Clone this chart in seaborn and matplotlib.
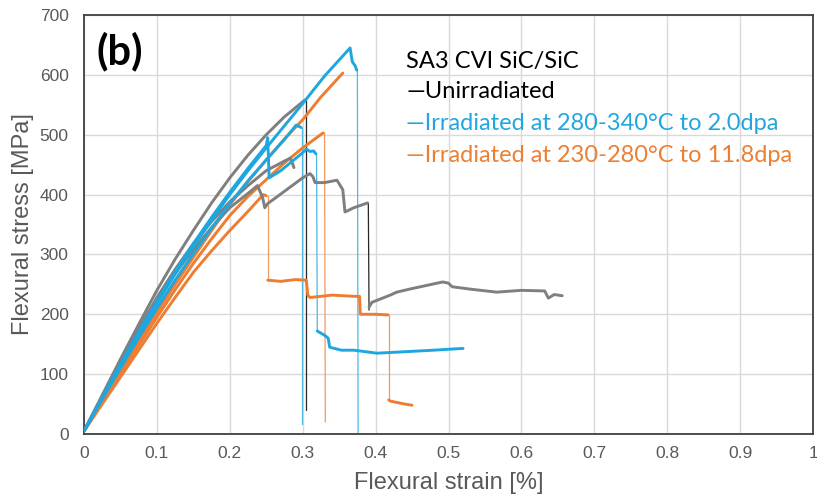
import matplotlib
matplotlib.use("Agg")
import matplotlib.pyplot as plt
import seaborn as sns
import pandas as pd

# ---------------- data (strain %, stress MPa) ----------------
g1_x = [0, 0.025, 0.05, 0.075, 0.1, 0.125, 0.15, 0.175, 0.2, 0.225, 0.25, 0.275, 0.303]
g1_y = [5, 65, 125, 183, 240, 292, 340, 386, 428, 466, 500, 530, 558]
g1_drop_x = [0.305, 0.305]
g1_drop_y = [558, 40]

g2_x = [0, 0.025, 0.05, 0.075, 0.1, 0.125, 0.15, 0.175, 0.2, 0.225, 0.25, 0.275, 0.283,
        0.286, 0.288]
g2_y = [5, 62, 120, 175, 228, 275, 318, 355, 388, 415, 440, 456, 461, 452, 445]

g3_x = [0, 0.025, 0.05, 0.075, 0.1, 0.125, 0.15, 0.175, 0.2, 0.225, 0.238, 0.245, 0.248,
        0.252, 0.26, 0.28, 0.30, 0.31, 0.314, 0.317, 0.33, 0.347, 0.355, 0.358, 0.36,
        0.37, 0.389]
g3_y = [5, 62, 120, 174, 224, 268, 308, 345, 378, 402, 415, 395, 378,
        385, 392, 410, 428, 435, 430, 420, 420, 424, 408, 371, 372,
        378, 386]
g3_drop_x = [0.390, 0.391]
g3_drop_y = [386, 207]
g3_tail_x = [0.391, 0.395, 0.42, 0.429, 0.45, 0.492, 0.50, 0.505, 0.53, 0.566, 0.60,
             0.632, 0.637, 0.645, 0.656]
g3_tail_y = [212, 220, 232, 237, 243, 254, 252, 246, 242, 237, 240,
             239, 227, 233, 231]

b1_x = [0, 0.025, 0.05, 0.075, 0.1, 0.125, 0.15, 0.175, 0.2, 0.225, 0.25, 0.275, 0.3,
        0.33, 0.365, 0.368, 0.372, 0.374]
b1_y = [5, 60, 115, 168, 218, 267, 313, 357, 400, 440, 478, 515, 552,
        598, 645, 622, 615, 608]
b1_drop_x = [0.375, 0.376]
b1_drop_y = [608, 0]

b2_x = [0, 0.025, 0.05, 0.075, 0.1, 0.125, 0.15, 0.175, 0.2, 0.225, 0.25, 0.252,
        0.254, 0.27, 0.29, 0.30, 0.305, 0.31, 0.315, 0.318]
b2_y = [5, 61, 117, 171, 222, 271, 318, 362, 404, 444, 482, 495,
        428, 440, 460, 470, 476, 472, 473, 468]
b2_drop_x = [0.319, 0.320]
b2_drop_y = [468, 172]
b2_tail_x = [0.320, 0.33, 0.335, 0.337, 0.353, 0.37, 0.402, 0.433, 0.479, 0.52]
b2_tail_y = [172, 165, 160, 145, 140, 140, 135, 137, 140, 143]

b3_x = [0, 0.025, 0.05, 0.075, 0.1, 0.125, 0.15, 0.175, 0.2, 0.225, 0.25, 0.275, 0.291, 0.298]
b3_y = [5, 58, 110, 161, 210, 257, 301, 344, 385, 423, 458, 492, 516, 512]
b3_drop_x = [0.299, 0.299]
b3_drop_y = [512, 17]

o1_x = [0, 0.025, 0.05, 0.075, 0.1, 0.125, 0.15, 0.175, 0.2, 0.225, 0.25, 0.275, 0.3,
        0.325, 0.355]
o1_y = [5, 55, 105, 155, 203, 250, 295, 340, 383, 422, 458, 493, 525, 563, 603]

o2_x = [0, 0.025, 0.05, 0.075, 0.1, 0.125, 0.15, 0.175, 0.2, 0.225, 0.25, 0.275, 0.3, 0.328]
o2_y = [5, 52, 100, 148, 195, 241, 285, 326, 365, 397, 425, 453, 478, 503]
o2_drop_x = [0.330, 0.331]
o2_drop_y = [503, 20]

o3_x = [0, 0.025, 0.05, 0.075, 0.1, 0.125, 0.15, 0.175, 0.2, 0.225, 0.246, 0.25]
o3_y = [5, 50, 95, 140, 185, 228, 270, 306, 340, 372, 400, 398]
o3_drop_x = [0.252, 0.252]
o3_drop_y = [398, 257]
o3_step_x = [0.252, 0.27, 0.29, 0.305, 0.307, 0.31, 0.34, 0.37, 0.378, 0.379, 0.40, 0.417]
o3_step_y = [257, 255, 258, 257, 232, 228, 232, 230, 230, 200, 200, 199]
o3_drop2_x = [0.418, 0.418]
o3_drop2_y = [199, 57]
o3_tail_x = [0.418, 0.42, 0.44, 0.45]
o3_tail_y = [57, 55, 50, 48]

x_ticks = [0, 0.1, 0.2, 0.3, 0.4, 0.5, 0.6, 0.7, 0.8, 0.9, 1]
x_tick_labels = ["0", "0.1", "0.2", "0.3", "0.4", "0.5", "0.6", "0.7", "0.8", "0.9", "1"]
y_ticks = [0, 100, 200, 300, 400, 500, 600, 700]

legend_title = "SA3 CVI SiC/SiC"
legend_items = ["\u2014Unirradiated",
                "\u2014Irradiated at 280-340\u00b0C to 2.0dpa",
                "\u2014Irradiated at 230-280\u00b0C to 11.8dpa"]

# ---------------- style ----------------
GRAY = "#7f7f7f"
BLUE = "#1ea7df"
ORANGE = "#ee7d31"
BLUE_T = "#4db8e4"
ORANGE_T = "#f09a5e"
BLACK_T = "#262626"

sns.set_theme(style="white")
plt.rcParams["font.family"] = ["Liberation Sans", "DejaVu Sans"]

fig = plt.figure(figsize=(8.17, 5.01), dpi=100)
ax = fig.add_axes([84 / 817, 1 - 434 / 501, 729 / 817, 419 / 501])

THICK = 2.1
THIN = 0.9

def seg(xs, ys, color, lw, z=2):
    df = pd.DataFrame({"x": xs, "y": ys})
    sns.lineplot(data=df, x="x", y="y", sort=False, estimator=None, color=color,
                 lw=lw, ax=ax, zorder=z)

# thin drop lines
seg(g1_drop_x, g1_drop_y, BLACK_T, THIN)
seg(g3_drop_x, g3_drop_y, BLACK_T, THIN)
seg(b1_drop_x, b1_drop_y, BLUE_T, THIN)
seg(b2_drop_x, b2_drop_y, BLUE_T, THIN)
seg(b3_drop_x, b3_drop_y, BLUE_T, THIN)
seg(o2_drop_x, o2_drop_y, ORANGE_T, THIN)
seg(o3_drop_x, o3_drop_y, ORANGE_T, THIN)
seg(o3_drop2_x, o3_drop2_y, ORANGE_T, THIN)

# thick data lines
for xs, ys in [(o1_x, o1_y), (o2_x, o2_y), (o3_x, o3_y), (o3_step_x, o3_step_y),
               (o3_tail_x, o3_tail_y)]:
    seg(xs, ys, ORANGE, THICK, 3)
for xs, ys in [(b1_x, b1_y), (b2_x, b2_y), (b2_tail_x, b2_tail_y), (b3_x, b3_y)]:
    seg(xs, ys, BLUE, THICK, 4)
for xs, ys in [(g1_x, g1_y), (g2_x, g2_y), (g3_x, g3_y), (g3_tail_x, g3_tail_y)]:
    seg(xs, ys, GRAY, THICK, 3.5)

ax.set_xlim(0, 1)
ax.set_ylim(0, 700)
ax.set_xticks(x_ticks)
ax.set_xticklabels(x_tick_labels)
ax.set_yticks(y_ticks)
ax.grid(True, color="#d9d9d9", lw=1)
ax.set_axisbelow(True)
for s in ax.spines.values():
    s.set_color("#404040")
    s.set_linewidth(1.3)
ax.tick_params(axis="both", length=0, labelsize=12.5, colors="#595959")
ax.tick_params(axis="x", pad=9)
ax.tick_params(axis="y", pad=11)
ax.set_xlabel("Flexural strain [%]", fontsize=17, color="#595959")
ax.set_ylabel("Flexural stress [MPa]", fontsize=17, color="#595959")
ax.xaxis.set_label_coords(0.5, -0.09)
ax.yaxis.set_label_coords(-0.068, 0.5)

# panel label
fig.text(97 / 817, 1 - 51 / 501, "(b)", fontsize=30, fontweight="bold",
         family=["Lato", "DejaVu Sans"], va="center", ha="left", color="black")

# legend text
lx = 406 / 817
fig.text(lx, 1 - 62 / 501, legend_title, fontsize=17, family=["Lato", "DejaVu Sans"],
         color="black", va="center", ha="left")
for txt, col, yp in zip(legend_items, ["black", "#21a7df", "#eb7f34"], [92, 123, 155]):
    fig.text(lx, 1 - yp / 501, txt, fontsize=17, family=["Lato", "DejaVu Sans"],
             color=col, va="center", ha="left")

fig.savefig("out.png", dpi=100)
